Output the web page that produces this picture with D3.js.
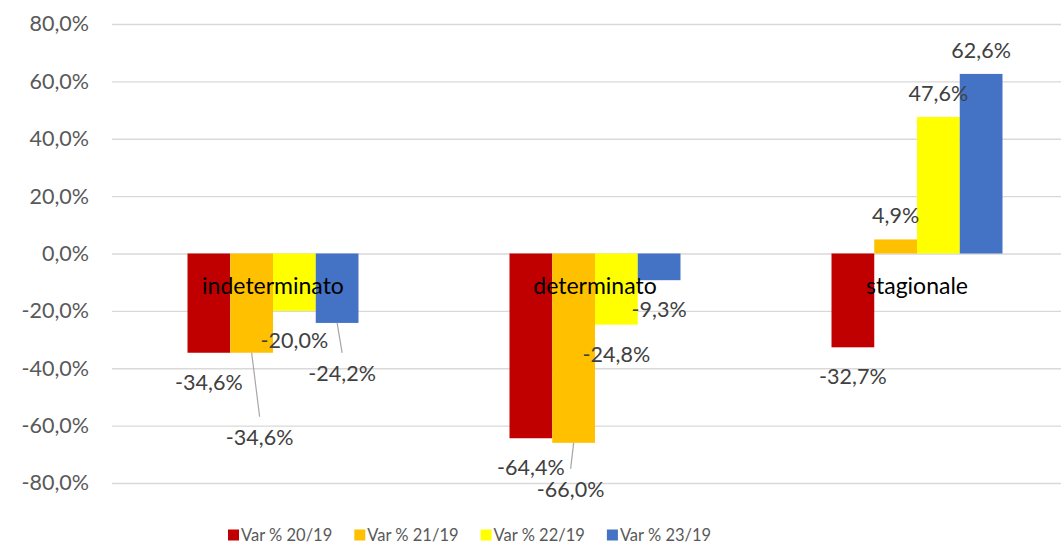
<!DOCTYPE html>
<html>
<head>
<meta charset="utf-8">
<script src="https://cdn.jsdelivr.net/npm/d3@7"></script>
<style>
  html, body { margin: 0; padding: 0; background: #fff; }
  svg { display: block; }
</style>
</head>
<body>
<div id="canvas"></div>
<script>
let categories = ["indeterminato", "determinato", "stagionale"];
let seriesNames = ["Var % 20/19", "Var % 21/19", "Var % 22/19", "Var % 23/19"];
let var20 = [-34.6, -64.4, -32.7];
let var21 = [-34.6, -66.0, 4.9];
let var22 = [-20.0, -24.8, 47.6];
let var23 = [-24.2, -9.3, 62.6];
let colors = ["#c00000", "#ffc000", "#ffff00", "#4472c4"];
let yTicks = [-80, -60, -40, -20, 0, 20, 40, 60, 80];

// labels that were dragged away from the bar in the original (series, category, dx, dy)
let labelNudges = [
  { s: 1, c: 0, dx: 8, dy: 84 },
  { s: 3, c: 0, dx: 5, dy: 50 },
  { s: 1, c: 1, dx: -3, dy: 46 },
];

let values = [var20, var21, var22, var23];
let width = 1061,
  height = 545;
let font = "Lato, 'Open Sans', sans-serif";

let svg = d3
  .select("#canvas")
  .append("svg")
  .attr("width", width)
  .attr("height", height)
  .style("background", "#fff");

let x0 = d3.scaleBand().domain(categories).range([112, 1078]).padding(0);
let gap = 0.2345;
let x1 = d3
  .scaleBand()
  .domain(d3.range(seriesNames.length))
  .range([x0.bandwidth() * gap, x0.bandwidth() * (1 - gap)]);
let y = d3.scaleLinear().domain([-80, 80]).range([483, 24]);

let pct = (v) => d3.format(".1f")(v).replace(".", ",").replace("−", "-") + "%";

// y axis + gridlines
let yAxis = svg
  .append("g")
  .attr("transform", "translate(112,0)")
  .call(
    d3
      .axisLeft(y)
      .tickValues(yTicks)
      .tickSize(-(1078 - 112))
      .tickPadding(23)
      .tickFormat(pct)
  );
yAxis.select(".domain").remove();
yAxis.selectAll(".tick line").attr("stroke", "#d9d9d9").attr("stroke-width", 1.3);
yAxis
  .selectAll(".tick text")
  .attr("fill", "#595959")
  .style("font-family", font)
  .style("font-size", "21.5px");

// bars
let rows = [];
values.forEach((arr, s) => {
  arr.forEach((v, c) => rows.push({ s: s, c: c, v: v }));
});

svg
  .append("g")
  .selectAll("rect")
  .data(rows)
  .join("rect")
  .attr("x", (d) => x0(categories[d.c]) + x1(d.s))
  .attr("width", x1.bandwidth())
  .attr("y", (d) => Math.min(y(d.v), y(0)))
  .attr("height", (d) => Math.abs(y(d.v) - y(0)))
  .attr("fill", (d) => colors[d.s]);

// category labels sit just under the zero line
svg
  .append("g")
  .selectAll("text")
  .data(categories)
  .join("text")
  .attr("x", (d) => x0(d) + x0.bandwidth() / 2)
  .attr("y", y(0) + 31)
  .attr("text-anchor", "middle")
  .attr("dominant-baseline", "central")
  .style("font-family", font)
  .style("font-size", "23px")
  .attr("fill", "#000")
  .text((d) => d);

// data labels
let labelPos = (d) => {
  let cx = x0(categories[d.c]) + x1(d.s) + x1.bandwidth() / 2;
  let by = y(d.v);
  let n = labelNudges.find((o) => o.s == d.s && o.c == d.c);
  if (n) return { bx: cx, by: by, lx: cx + n.dx, ly: by + n.dy, lead: true };
  return { bx: cx, by: by, lx: cx, ly: d.v < 0 ? by + 29 : by - 24, lead: false };
};

svg
  .append("g")
  .selectAll("line")
  .data(rows.filter((d) => labelPos(d).lead))
  .join("line")
  .attr("x1", (d) => labelPos(d).bx)
  .attr("y1", (d) => labelPos(d).by)
  .attr("x2", (d) => labelPos(d).lx)
  .attr("y2", (d) => labelPos(d).ly - 20)
  .attr("stroke", "#a6a6a6")
  .attr("stroke-width", 1.2);

svg
  .append("g")
  .selectAll("text")
  .data(rows)
  .join("text")
  .attr("x", (d) => labelPos(d).lx)
  .attr("y", (d) => labelPos(d).ly)
  .attr("text-anchor", "middle")
  .attr("dominant-baseline", "central")
  .style("font-family", font)
  .style("font-size", "21.5px")
  .attr("fill", "#404040")
  .text((d) => pct(d.v));

// legend
let legend = svg
  .append("g")
  .selectAll("g")
  .data(seriesNames)
  .join("g")
  .attr("transform", (d, i) => `translate(${228 + i * 126.3},535)`);

legend
  .append("rect")
  .attr("x", 0)
  .attr("y", -5.5)
  .attr("width", 11)
  .attr("height", 11)
  .attr("fill", (d, i) => colors[i]);

legend
  .append("text")
  .attr("x", 13)
  .attr("y", 0)
  .attr("dominant-baseline", "central")
  .style("font-family", font)
  .style("font-size", "16.5px")
  .attr("fill", "#595959")
  .text((d) => d);
</script>
</body>
</html>
